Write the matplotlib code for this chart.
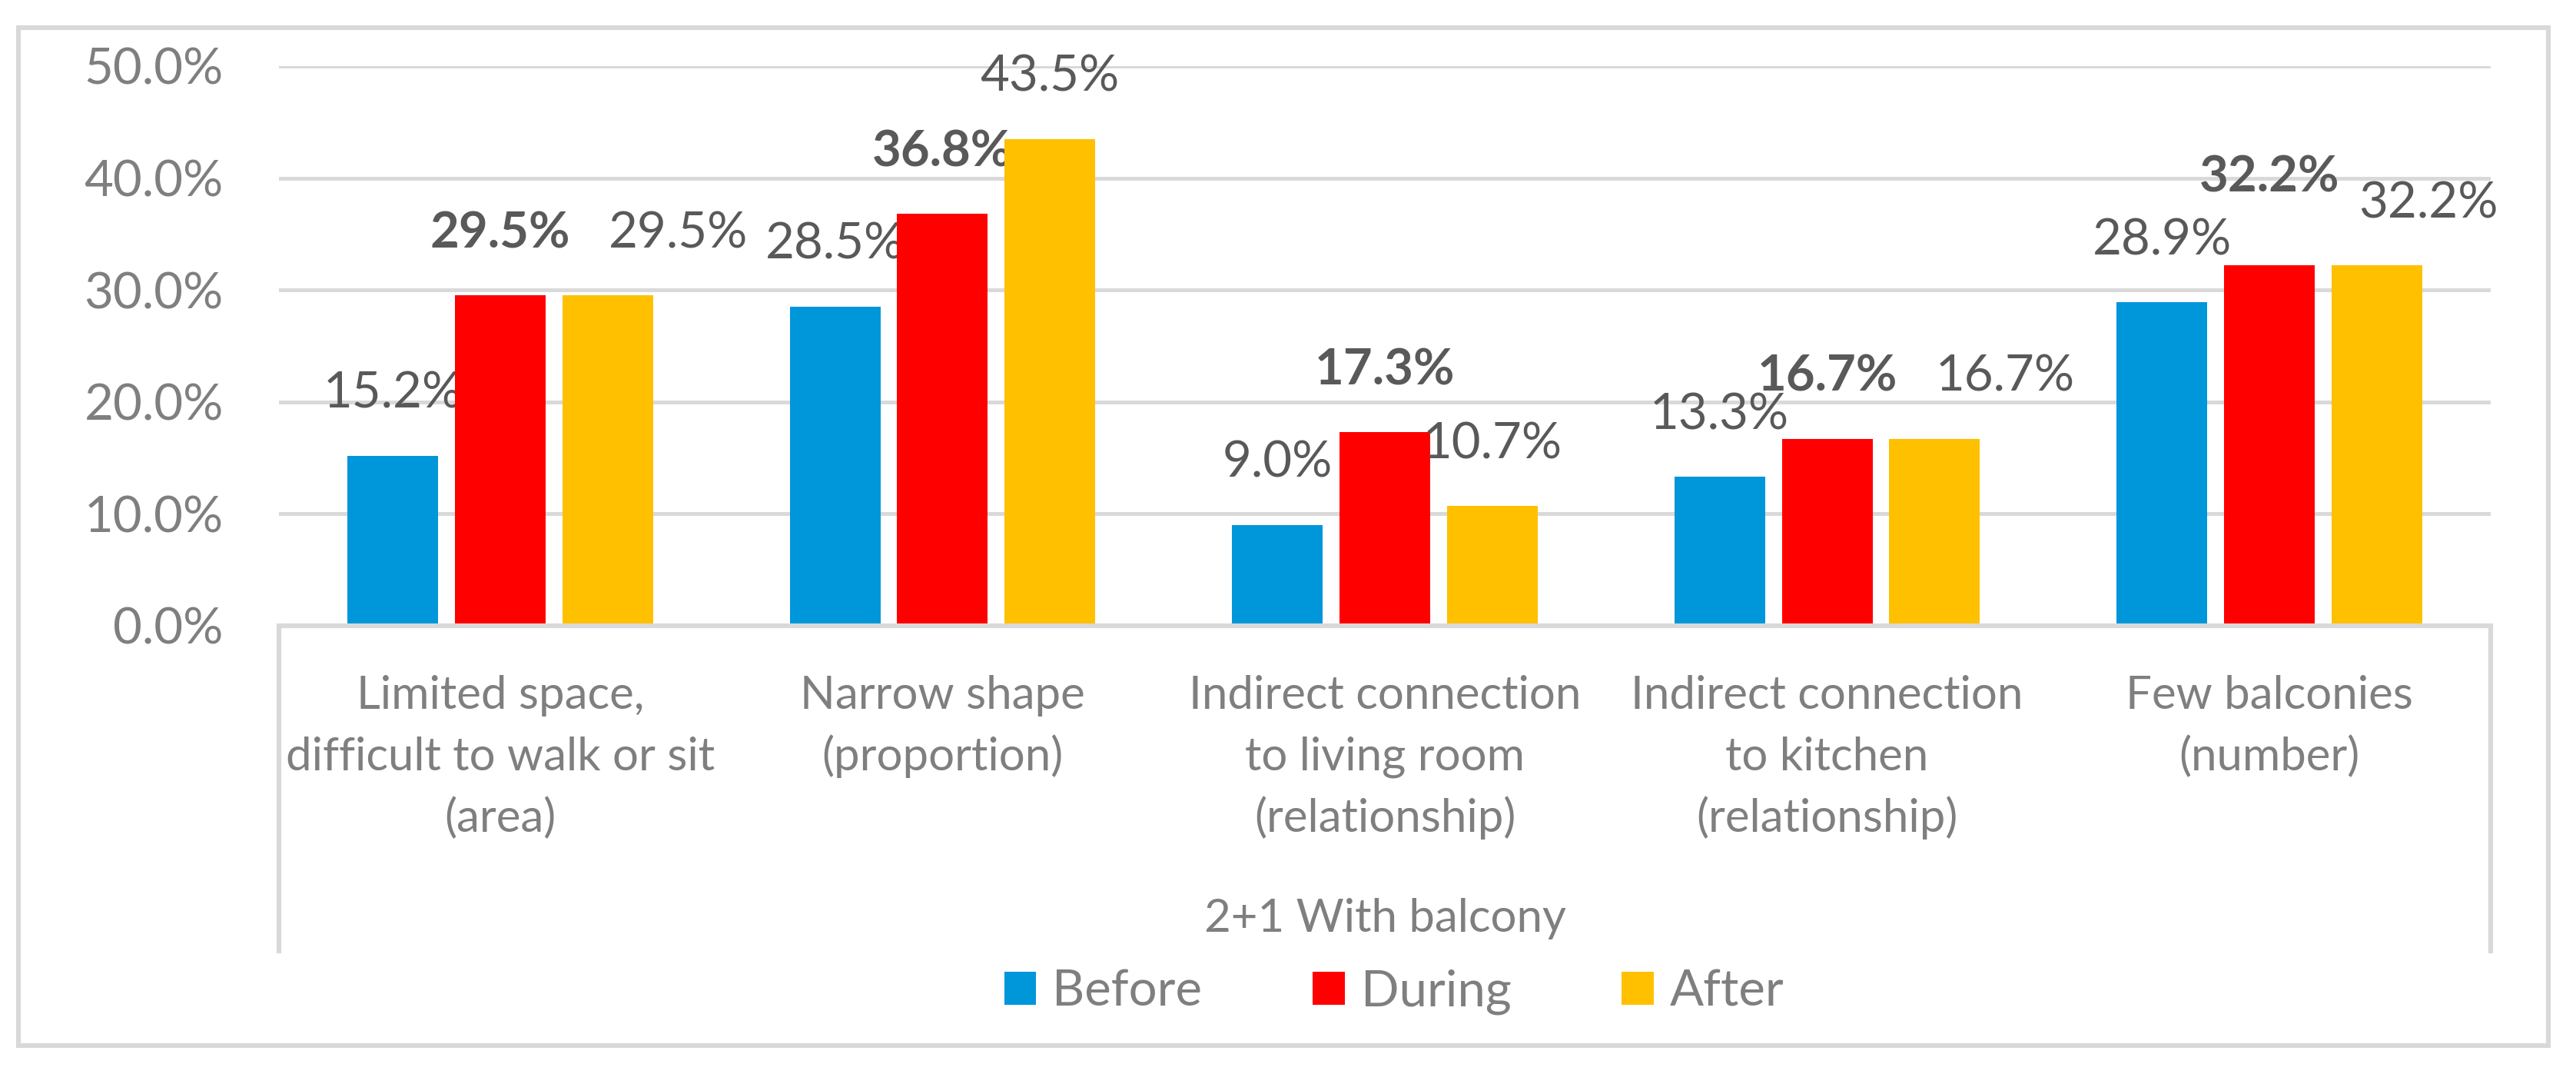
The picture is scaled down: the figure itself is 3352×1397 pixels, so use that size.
import numpy as np
import matplotlib
matplotlib.use('Agg')
import matplotlib.pyplot as plt
from matplotlib import transforms
from matplotlib.lines import Line2D
from matplotlib.patches import Rectangle

plt.rcParams['font.family'] = ['Lato', 'DejaVu Sans']

# data
categories = [
    'Limited space,\ndifficult to walk or sit\n(area)',
    'Narrow shape\n(proportion)',
    'Indirect connection\nto living room\n(relationship)',
    'Indirect connection\nto kitchen\n(relationship)',
    'Few balconies\n(number)',
]
group_label = '2+1 With balcony'
series_names = ['Before', 'During', 'After']
before = [15.2, 28.5, 9.0, 13.3, 28.9]
during = [29.5, 36.8, 17.3, 16.7, 32.2]
after = [29.5, 43.5, 10.7, 16.7, 32.2]
yticks = [0, 10, 20, 30, 40, 50]

colors = ['#0096DA', '#FF0000', '#FFC000']
grid_col = '#D9D9D9'
text_col = '#7F7F7F'
label_col = '#595959'

# labels nudged by hand in the original chart (series, category) -> (dx, dy) points
nudges = {(2, 0): (33, 0), (2, 3): (33, 0), (2, 4): (24, 0), (1, 4): (0, 12)}

W, H, DPI = 3352, 1397, 200
fig = plt.figure(figsize=(W / DPI, H / DPI), dpi=DPI)

def fx(px):
    return px / W

def fy(py):
    return 1 - py / H

ax_l, ax_r, ax_t, ax_b = 363, 3241, 86, 814
ax = fig.add_axes([fx(ax_l), fy(ax_b), fx(ax_r - ax_l), fy(ax_t) - fy(ax_b)])

x = np.arange(len(categories))
width = 0.205
offset = 0.243
all_series = [before, during, after]
for i, (vals, col) in enumerate(zip(all_series, colors)):
    xs = x + (i - 1) * offset
    ax.bar(xs, vals, width, color=col, label=series_names[i], zorder=3)
    for j, (xb, v) in enumerate(zip(xs, vals)):
        dx, dy = nudges.get((i, j), (0, 0))
        ax.annotate(f'{v:.1f}%', (xb, v), xytext=(dx, 29 + dy), textcoords='offset points',
                    ha='center', va='center', fontsize=23.5, color=label_col,
                    fontweight='bold' if i == 1 else 'normal')

ax.set_xlim(-0.5, len(categories) - 0.5)
ax.set_ylim(0, 50)
ax.set_yticks(yticks)
ax.set_yticklabels([f'{v:.1f}%' for v in yticks])
ax.set_xticks([])
ax.tick_params(axis='y', length=0, pad=26, labelsize=23.5, labelcolor=text_col)
ax.grid(axis='y', color=grid_col, lw=1.8, zorder=0)
ax.set_axisbelow(True)
for s in ax.spines.values():
    s.set_visible(False)

# multi-level category box
box_bottom = 1237
lw_box = 2.2
fig.add_artist(Line2D([fx(ax_l), fx(ax_r)], [fy(ax_b), fy(ax_b)], color=grid_col, lw=lw_box, zorder=4))
fig.add_artist(Line2D([fx(ax_l), fx(ax_l)], [fy(ax_b), fy(box_bottom)], color=grid_col, lw=lw_box))
fig.add_artist(Line2D([fx(ax_r), fx(ax_r)], [fy(ax_b), fy(box_bottom)], color=grid_col, lw=lw_box))

trans = transforms.blended_transform_factory(ax.transData, fig.transFigure)
first_baseline, line_step = 922, 80
for xi, cat in zip(x, categories):
    for k, line in enumerate(cat.split('\n')):
        fig.text(xi, fy(first_baseline + k * line_step), line, transform=trans,
                 ha='center', va='baseline', fontsize=21.6, color=text_col)
fig.text(fx((ax_l + ax_r) / 2), fy(1212), group_label, ha='center', va='baseline',
         fontsize=21.6, color=text_col)

# legend
leg = fig.legend(loc='center', bbox_to_anchor=(fx(1814), fy(1290)), ncol=3, frameon=False,
                 fontsize=23.5, handlelength=0.64, handleheight=0.64, handletextpad=0.32,
                 columnspacing=2.2, borderpad=0, borderaxespad=0)
for t in leg.get_texts():
    t.set_color(text_col)

# outer chart border
fig.add_artist(Rectangle((fx(24), fy(1360)), fx(3316 - 24), fy(36) - fy(1360),
                         fill=False, edgecolor=grid_col, lw=2.2))

fig.savefig('out.png', dpi=DPI, facecolor='white')
